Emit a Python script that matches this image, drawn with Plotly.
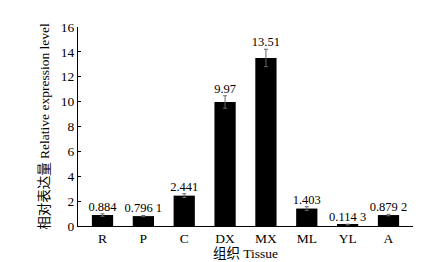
import plotly.graph_objects as go

categories = ["R", "P", "C", "DX", "MX", "ML", "YL", "A"]
values = [0.884, 0.7961, 2.441, 9.97, 13.51, 1.403, 0.1143, 0.8792]
errors = [0.10, 0.05, 0.15, 0.5, 0.7, 0.15, 0.03, 0.06]
value_labels = ["0.884", "0.796 1", "2.441", "9.97", "13.51", "1.403", "0.114 3", "0.879 2"]
y_ticks = [0, 2, 4, 6, 8, 10, 12, 14, 16]

FONT = "Liberation Serif, Times New Roman, Noto Sans CJK SC, serif"

fig = go.Figure()
fig.add_trace(go.Bar(
    x=categories, y=values, width=0.52,
    marker=dict(color="black", line=dict(width=0)),
    error_y=dict(type="data", array=errors, visible=True,
                 color="#666666", thickness=1, width=2),
    showlegend=False,
))
fig.add_trace(go.Scatter(
    x=categories, y=[v + e for v, e in zip(values, errors)],
    mode="text", text=value_labels, textposition="top center",
    textfont=dict(family=FONT, size=12.5, color="black"),
    showlegend=False, cliponaxis=False,
))

fig.update_layout(
    width=446, height=262,
    margin=dict(l=70, r=41, t=12, b=41),
    paper_bgcolor="white", plot_bgcolor="white",
    font=dict(family=FONT, size=13, color="black"),
    xaxis=dict(
        range=[-0.6, 7.6], showline=True, linecolor="black", linewidth=1,
        ticks="", showgrid=False, zeroline=False,
        title=dict(text="组织 Tissue", font=dict(size=13.5), standoff=2),
        tickfont=dict(size=13.5),
    ),
    yaxis=dict(
        range=[0, 16], tickvals=y_ticks, showline=True, linecolor="black",
        linewidth=1, ticks="inside", ticklen=3, tickcolor="black",
        showgrid=False, zeroline=False,
        title=dict(text="相对表达量 Relative expression level", font=dict(size=13.5), standoff=8),
        tickfont=dict(size=13.5),
    ),
)

fig.write_html("out.html")
